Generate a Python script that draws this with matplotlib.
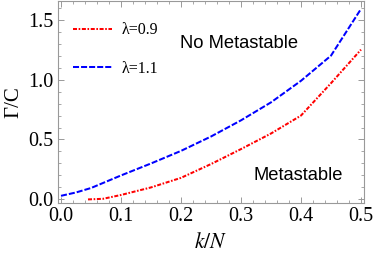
import matplotlib
matplotlib.use("Agg")
import matplotlib.pyplot as plt
from matplotlib.ticker import MultipleLocator

plt.rcParams["mathtext.fontset"] = "stix"

# data
x_red = [0.045, 0.07, 0.1, 0.15, 0.2, 0.25, 0.3, 0.35, 0.4, 0.45, 0.5]
y_red = [0.0, 0.005, 0.037, 0.10, 0.18, 0.295, 0.42, 0.55, 0.70, 0.97, 1.25]
x_blue = [0.0, 0.025, 0.05, 0.1, 0.15, 0.2, 0.25, 0.3, 0.35, 0.4, 0.45, 0.5]
y_blue = [0.03, 0.058, 0.095, 0.20, 0.30, 0.405, 0.525, 0.66, 0.81, 0.99, 1.20, 1.59]
labels = ["λ=0.9", "λ=1.1"]

serif = ["Liberation Serif", "DejaVu Serif"]
sans = ["Liberation Sans", "DejaVu Sans"]

fig = plt.figure(figsize=(3.74, 2.57), dpi=100)
ax = fig.add_axes([58/374, 1 - 203/257, (364 - 58)/374, 203/257 - 0.002])

ax.plot(x_red, y_red, color="#ff0000", lw=1.45, dashes=(2.0, 0.8, 0.8, 0.8), label=labels[0])
ax.plot(x_blue, y_blue, color="#0000ff", lw=1.45, dashes=(3.0, 1.0), label=labels[1])

ax.set_xlim(-0.005, 0.505)
ax.set_ylim(-0.03, 1.66)
ax.xaxis.set_major_locator(MultipleLocator(0.1))
ax.xaxis.set_minor_locator(MultipleLocator(0.02))
ax.yaxis.set_major_locator(MultipleLocator(0.5))
ax.yaxis.set_minor_locator(MultipleLocator(0.1))
ax.xaxis.set_major_formatter(plt.FuncFormatter(lambda v, p: f"{v:.1f}"))
ax.yaxis.set_major_formatter(plt.FuncFormatter(lambda v, p: f"{v:.1f}"))

gray = "#999999"
for s in ax.spines.values():
    s.set_color(gray)
    s.set_linewidth(0.8)
ax.tick_params(which="both", direction="in", top=True, right=True, color=gray,
               labelcolor="black")
ax.tick_params(which="major", length=4, width=0.7, labelsize=14.5, pad=3)
ax.tick_params(which="minor", length=2, width=0.6)
for lab in ax.get_xticklabels() + ax.get_yticklabels():
    lab.set_family(serif)

ax.set_xlabel("$k/N$", fontsize=15.5, labelpad=4)
ax.set_ylabel("Γ/C", fontsize=15, family=serif, labelpad=4)

leg = ax.legend(loc="center left", frameon=False, prop={"family": serif, "size": 11.5},
                handlelength=2.45, handletextpad=0.6, labelspacing=1.4,
                borderpad=0, borderaxespad=0, bbox_to_anchor=(0.049, 0.758))

ax.text(0.399, 0.79, "No Metastable", transform=ax.transAxes, fontsize=13.2,
        family=sans, ha="left", va="center")
ax.text(0.64, 0.138, "Metastable", transform=ax.transAxes, fontsize=13.2,
        family=sans, ha="left", va="center")

fig.savefig("out.png", dpi=100)
